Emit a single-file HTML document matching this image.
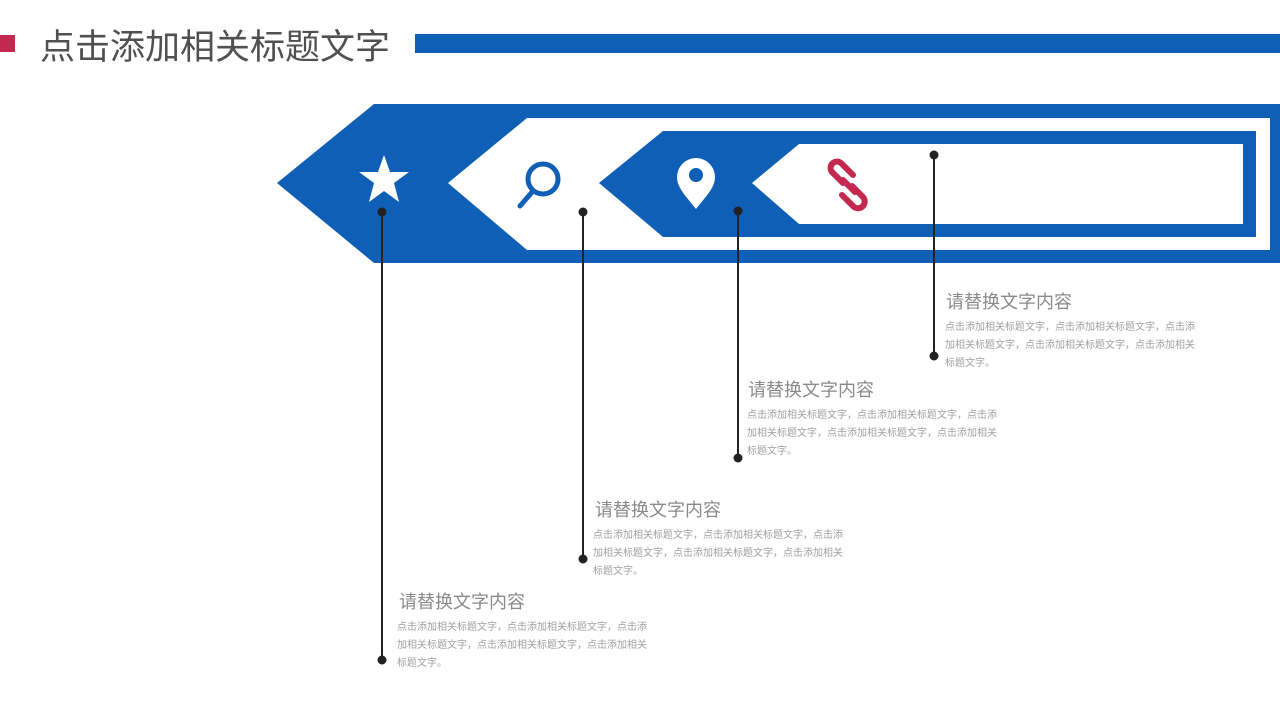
<!DOCTYPE html>
<html><head><meta charset="utf-8"><style>
body{margin:0;width:1280px;height:720px;background:#fff;position:relative;overflow:hidden;font-family:"Liberation Sans","Noto Sans CJK SC",sans-serif}
.t{position:absolute;color:#8a8a8a;font-size:18px;white-space:nowrap}
.b{position:absolute;color:#a0a0a0;font-size:10px;line-height:18px;width:252px;word-break:break-all}
</style></head><body>
<div style="position:absolute;left:0;top:35px;width:15px;height:17px;background:#c3284f"></div>
<div style="position:absolute;left:40px;top:19px;font-size:35px;color:#505050;white-space:nowrap">点击添加相关标题文字</div>
<div style="position:absolute;left:415px;top:34px;width:865px;height:19px;background:#0e5fb5"></div>
<svg width="1280" height="720" style="position:absolute;left:0;top:0">
<polygon points="374,104 1280,104 1280,263 374,263 277,183" fill="#0e5fb5"/>
<polygon points="527,118 1270,118 1270,250 527,250 448,183" fill="#fff"/>
<polygon points="663,131 1256,131 1256,237 663,237 599,183" fill="#0e5fb5"/>
<polygon points="799,144 1243,144 1243,224 799,224 752,183" fill="#fff"/>
<polygon points="384,155 390,172 409,172 394,183 399,202 384,191 369,202 374,183 359,172 378,172" fill="#fff"/>
<circle cx="543" cy="179" r="15" fill="none" stroke="#0e5fb5" stroke-width="5"/>
<line x1="533" y1="191" x2="520" y2="206" stroke="#0e5fb5" stroke-width="5" stroke-linecap="round"/>
<path d="M696,209 C686,196 677,188 677,177 A19,19 0 0 1 715,177 C715,188 706,196 696,209Z" fill="#fff"/>
<circle cx="696" cy="175" r="7" fill="#0e5fb5"/>
<g stroke="#c3284f" stroke-width="6" fill="none" stroke-linecap="round" stroke-linejoin="round">
<path d="M843,183 L832,172 A6,6 0 0 1 842,164 L853,175"/>
<path d="M852,186 L863,197 A6,6 0 0 1 853,206 L842,195"/>
<line x1="843" y1="180" x2="855" y2="192"/>
</g>
<g stroke="#222" stroke-width="2" fill="#222">
<line x1="382" y1="212" x2="382" y2="660"/><circle cx="382" cy="212" r="3.5"/><circle cx="382" cy="660" r="3.5"/>
<line x1="583" y1="212" x2="583" y2="559"/><circle cx="583" cy="212" r="3.5"/><circle cx="583" cy="559" r="3.5"/>
<line x1="738" y1="211" x2="738" y2="458"/><circle cx="738" cy="211" r="3.5"/><circle cx="738" cy="458" r="3.5"/>
<line x1="934" y1="155" x2="934" y2="356"/><circle cx="934" cy="155" r="3.5"/><circle cx="934" cy="356" r="3.5"/>
</g>
</svg>
<div class="t" style="left:946px;top:288px">请替换文字内容</div>
<div class="b" style="left:945px;top:319px">点击添加相关标题文字，点击添加相关标题文字，点击添加相关标题文字，点击添加相关标题文字，点击添加相关标题文字。</div>
<div class="t" style="left:748px;top:376px">请替换文字内容</div>
<div class="b" style="left:747px;top:407px">点击添加相关标题文字，点击添加相关标题文字，点击添加相关标题文字，点击添加相关标题文字，点击添加相关标题文字。</div>
<div class="t" style="left:595px;top:496px">请替换文字内容</div>
<div class="b" style="left:593px;top:527px">点击添加相关标题文字，点击添加相关标题文字，点击添加相关标题文字，点击添加相关标题文字，点击添加相关标题文字。</div>
<div class="t" style="left:399px;top:588px">请替换文字内容</div>
<div class="b" style="left:397px;top:619px">点击添加相关标题文字，点击添加相关标题文字，点击添加相关标题文字，点击添加相关标题文字，点击添加相关标题文字。</div>
</body></html>
